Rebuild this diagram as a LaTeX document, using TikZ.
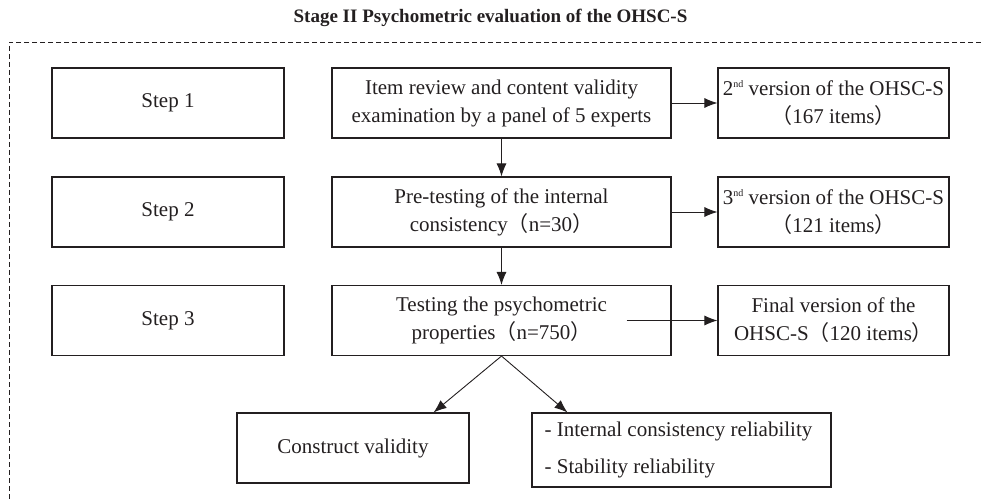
\documentclass[tikz,border=0pt]{standalone}
\usepackage{fontspec}
\setmainfont{Liberation Serif}
\newfontfamily\cjk{Noto Sans CJK SC}
\usetikzlibrary{arrows.meta}
\definecolor{ink}{HTML}{231F20}
\newcommand{\lp}{{\cjk （}}
\newcommand{\rp}{{\cjk ）}}
\newcommand{\ndsup}{\raisebox{8pt}{\fontsize{10}{10}\selectfont nd}}
\begin{document}
\begin{tikzpicture}[x=1pt,y=-1pt,
  box/.style={draw=ink, line width=1.1pt, inner sep=0pt, align=center,
    text=ink, font=\fontsize{21}{28}\selectfont},
  stepbox/.style={box, minimum width=232pt, minimum height=70pt},
  midbox/.style={box, minimum width=339pt, minimum height=70pt},
  rightbox/.style={box, minimum width=231pt, minimum height=70pt},
  arr/.style={draw=ink, line width=0.9pt, -{Latex[length=13pt,width=10pt]}}
]
\useasboundingbox (0,0) rectangle (981,502);
% title
\node[text=ink, font=\bfseries\fontsize{19}{22}\selectfont] (title) at (490.5,18) {Stage II Psychometric evaluation of the OHSC-S};
% dashed frame (top and left edges visible)
\draw[ink, line width=0.8pt, dash pattern=on 5pt off 3pt] (981,42) -- (9,42) -- (9,502);
% step column
\node[stepbox] (s1) at (168,103) {Step 1};
\node[stepbox] (s2) at (168,212) {Step 2};
\node[stepbox] (s3) at (168,320.5) {Step 3};
% middle column
\node[midbox] (m1) at (501.5,103) {Item review and content validity\\examination by a panel of 5 experts};
\node[midbox] (m2) at (501.5,212) {Pre-testing of the internal\\consistency\lp n=30\rp};
\node[midbox] (m3) at (501.5,320.5) {Testing the psychometric\\properties\lp n=750\rp};
% right column
\node[rightbox] (r1) at (833.5,103) {2\ndsup\ version of the OHSC-S\\\lp 167 items\rp};
\node[rightbox] (r2) at (833.5,212) {3\ndsup\ version of the OHSC-S\\\lp 121 items\rp};
\node[rightbox] (r3) at (833.5,320.5) {Final version of the\\OHSC-S\lp 120 items\rp};
% bottom boxes
\node[box, minimum width=232pt, minimum height=70pt] (cv) at (353,448) {Construct validity};
\node[box, minimum width=299pt, minimum height=74pt, align=left, font=\fontsize{21}{37}\selectfont] (rel) at (681.5,450)
  {\hspace*{7pt}- Internal consistency reliability\hspace*{13pt}\\\hspace*{7pt}- Stability reliability};
% connectors
\draw[arr] (m1.east) -- (r1.west);
\draw[arr] (m2.east) -- (r2.west);
\draw[arr] ([xshift=-45pt]m3.east) -- (r3.west);
\draw[arr] (m1.south) -- (m2.north);
\draw[arr] (m2.south) -- (m3.north);
\draw[arr] (m3.south) -- ([xshift=-36pt]cv.north east);
\draw[arr] (m3.south) -- ([xshift=36pt]rel.north west);
\end{tikzpicture}
\end{document}
